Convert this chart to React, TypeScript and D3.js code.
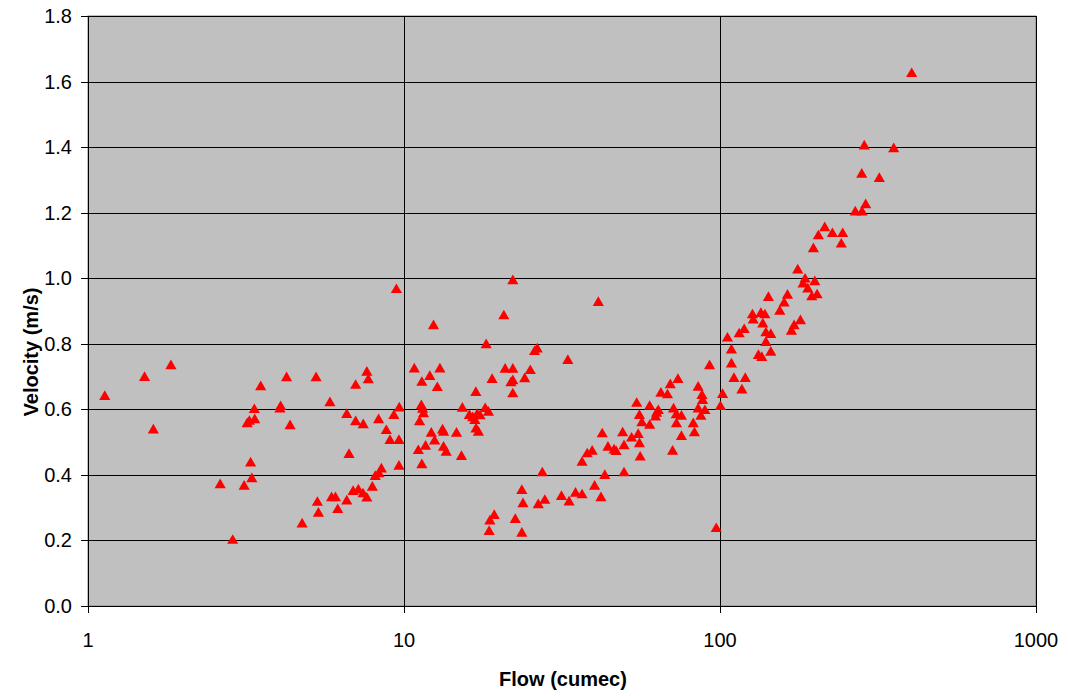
import React from "react";
import * as d3 from "d3";

const flow: number[] = [
  1.13, 1.51, 1.83, 1.61, 4.25, 3.52, 4.07, 4.05, 3.36, 3.24, 3.19, 3.37, 4.36, 3.27, 3.30, 2.62, 3.12, 4.76, 2.87,
  9.46, 5.27, 7.63, 7.71, 7.03, 5.83, 6.59, 7.03, 7.43, 8.31, 8.79, 9.29, 9.66, 9.03, 9.64, 6.70, 9.64, 8.48, 8.33, 8.11, 7.94,
  6.90, 7.17, 7.42, 7.63, 5.90, 6.07, 6.59, 5.32, 5.36, 6.17,
  12.4, 18.2, 10.78, 11.39, 12.07, 12.99, 12.75, 16.88, 11.35, 11.45, 11.53, 11.2, 15.3, 12.2, 13.24, 13.34, 12.5, 14.66,
  11.7, 11.1, 13.34, 13.6, 15.2, 11.39, 16.1, 16.5, 17.05, 17.4, 16.76, 18.07, 18.5, 16.9, 17.2,
  22.1, 20.7, 25.9, 26.4, 33.0, 20.9, 22.1, 25.1, 19.0, 21.8, 22.1, 24.1, 22.1, 41.2,
  18.6, 19.3, 18.7, 22.5, 23.6, 23.6, 23.8, 27.9, 26.6, 27.4, 31.5, 33.3, 34.9, 36.6, 36.6, 38.0, 39.4, 40.1, 42.0, 43.2,
  42.4, 44.2, 46.2, 46.9, 49.7, 49.2, 49.7, 52.5, 55.1, 55.6, 55.9, 54.5, 55.6, 56.6, 59.9, 59.9, 63.0, 63.8, 62.5,
  65.0, 68.2, 69.6, 73.6, 71.3, 72.7, 75.5, 72.8, 75.5, 70.8, 85.3, 87.7, 88.1, 85.3, 89.6, 87.0, 82.3, 83.0, 92.7,
  100.3, 101.9, 97.3, 105.6, 108.7, 108.7, 110.7, 117.3, 120.2, 115.0, 119.3, 126.7, 134.7, 138.7, 127.4, 136.6,
  139.7, 144.8, 139.7, 132.3, 135.6, 144.8, 142.3, 163.5, 159.6, 154.6, 179.7, 171.6, 168.3, 176.2, 185.9, 183.2,
  199.5, 189.6, 195.2, 202.9, 214.5, 204.8, 226.8, 244.5, 242.0, 197.5, 268.0, 281.5, 289.1, 280.9, 319.3, 286.2,
  354.6, 404.2,
];

const velocity: number[] = [
  0.643, 0.701, 0.737, 0.541, 0.700, 0.673, 0.612, 0.605, 0.603, 0.567, 0.560, 0.572, 0.554, 0.440, 0.392, 0.374, 0.369, 0.254, 0.204,
  0.969, 0.700, 0.717, 0.694, 0.677, 0.624, 0.588, 0.566, 0.557, 0.572, 0.539, 0.585, 0.608, 0.509, 0.509, 0.466, 0.430, 0.422, 0.407, 0.399, 0.366,
  0.353, 0.358, 0.346, 0.333, 0.334, 0.334, 0.324, 0.320, 0.287, 0.298,
  0.859, 0.801, 0.727, 0.686, 0.704, 0.727, 0.670, 0.655, 0.615, 0.604, 0.590, 0.566, 0.607, 0.531, 0.541, 0.534, 0.507, 0.531,
  0.491, 0.478, 0.488, 0.473, 0.460, 0.435, 0.585, 0.578, 0.588, 0.584, 0.570, 0.606, 0.595, 0.544, 0.534,
  0.996, 0.889, 0.780, 0.788, 0.753, 0.726, 0.726, 0.722, 0.695, 0.685, 0.691, 0.697, 0.651, 0.930,
  0.231, 0.280, 0.263, 0.268, 0.226, 0.356, 0.316, 0.326, 0.313, 0.410, 0.338, 0.321, 0.348, 0.343, 0.442, 0.468, 0.476, 0.369, 0.334, 0.402,
  0.529, 0.488, 0.480, 0.475, 0.493, 0.532, 0.410, 0.516, 0.527, 0.499, 0.458, 0.622, 0.585, 0.563, 0.613, 0.555, 0.592, 0.600, 0.580,
  0.653, 0.648, 0.679, 0.695, 0.605, 0.587, 0.583, 0.560, 0.521, 0.476, 0.671, 0.646, 0.631, 0.605, 0.600, 0.583, 0.560, 0.532, 0.737,
  0.612, 0.649, 0.240, 0.821, 0.785, 0.742, 0.698, 0.663, 0.698, 0.834, 0.847, 0.892, 0.896, 0.892, 0.876, 0.864,
  0.837, 0.832, 0.808, 0.768, 0.762, 0.778, 0.945, 0.952, 0.928, 0.903, 0.874, 0.859, 0.842, 1.029, 1.001, 0.986,
  0.993, 0.971, 0.947, 0.953, 1.158, 1.133, 1.140, 1.140, 1.108, 1.094, 1.206, 1.206, 1.228, 1.321, 1.308, 1.407,
  1.399, 1.628,
];

const xTicks: number[] = [1, 10, 100, 1000];
const yTicks: number[] = [0, 0.2, 0.4, 0.6, 0.8, 1.0, 1.2, 1.4, 1.6, 1.8];
const xTitle = "Flow (cumec)";
const yTitle = "Velocity (m/s)";

const W = 1068;
const H = 696;
const left = 88;
const right = 1036;
const top = 16;
const bottom = 606;
const FONT = "Arial, 'Liberation Sans', sans-serif";

export default function App() {
  const x = d3.scaleLog().domain([1, 1000]).range([left, right]);
  const y = d3.scaleLinear().domain([0, 1.8]).range([bottom, top]);
  const tri = d3.symbol().type(d3.symbolTriangle).size(54)() as string;
  const pts = flow.map((f, i) => ({ f, v: velocity[i] }));

  return (
    <svg
      width={W}
      height={H}
      style={{ position: "absolute", left: 0, top: 0, display: "block", background: "#fff" }}
      fontFamily={FONT}
    >
      <rect x={left} y={top} width={right - left} height={bottom - top} fill="#C0C0C0" stroke="#808080" strokeWidth={1} />
      {yTicks.map((t) => (
        <line key={"gy" + t} x1={left} x2={right} y1={Math.round(y(t)) + 0.5} y2={Math.round(y(t)) + 0.5} stroke="#000" strokeWidth={1} />
      ))}
      {xTicks.map((t) => (
        <line key={"gx" + t} y1={top} y2={bottom} x1={Math.round(x(t)) + 0.5} x2={Math.round(x(t)) + 0.5} stroke="#000" strokeWidth={1} />
      ))}
      <line x1={left + 0.5} x2={left + 0.5} y1={top} y2={bottom + 7} stroke="#000" />
      <line x1={left - 7} x2={right} y1={Math.round(y(0)) + 0.5} y2={Math.round(y(0)) + 0.5} stroke="#000" />
      {yTicks.map((t) => (
        <g key={"ty" + t}>
          <line x1={left - 7} x2={left} y1={Math.round(y(t)) + 0.5} y2={Math.round(y(t)) + 0.5} stroke="#000" />
          <text x={left - 16} y={y(t)} dy="0.35em" textAnchor="end" fontSize={20} fill="#000">
            {t.toFixed(1)}
          </text>
        </g>
      ))}
      {xTicks.map((t) => (
        <g key={"tx" + t}>
          <line x1={Math.round(x(t)) + 0.5} x2={Math.round(x(t)) + 0.5} y1={bottom} y2={bottom + 7} stroke="#000" />
          <text x={x(t)} y={bottom + 41} textAnchor="middle" fontSize={20} fill="#000">
            {String(t)}
          </text>
        </g>
      ))}
      {pts.map((p, i) => (
        <path key={i} d={tri} transform={`translate(${x(p.f)},${y(p.v) + 1.5})`} fill="#FF0000" />
      ))}
      <text x={563} y={686} textAnchor="middle" fontSize={20} fontWeight="bold" fill="#000">
        {xTitle}
      </text>
      <text transform="translate(38,352) rotate(-90)" textAnchor="middle" fontSize={20} fontWeight="bold" fill="#000">
        {yTitle}
      </text>
    </svg>
  );
}
